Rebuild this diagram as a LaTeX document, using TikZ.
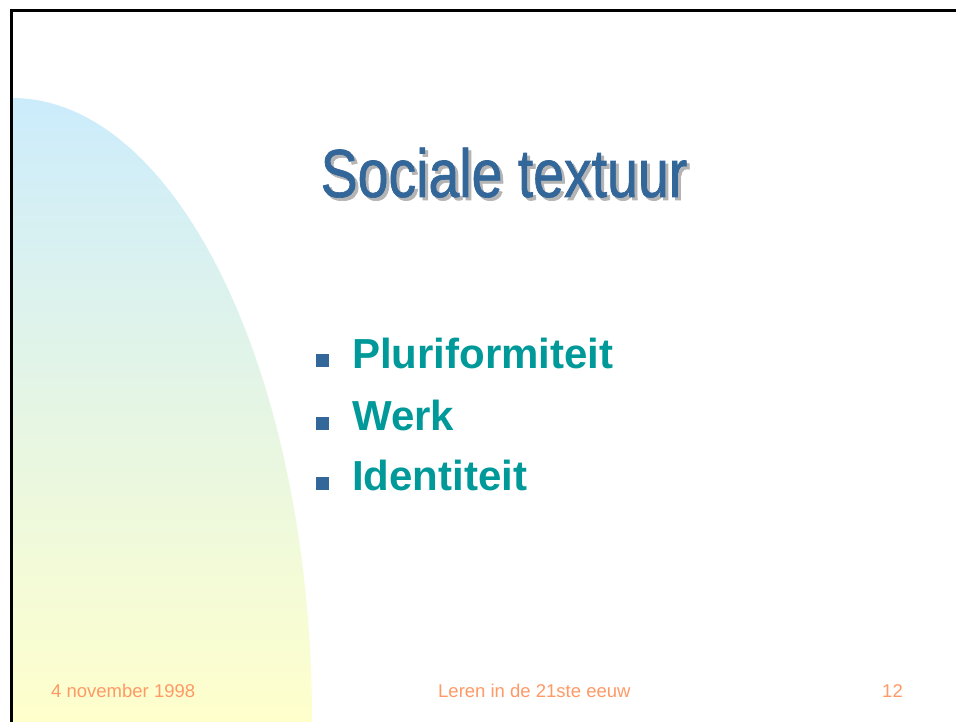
\documentclass[tikz,border=0pt]{standalone}
\usepackage{fontspec}
\setmainfont{Liberation Sans}
\newfontfamily\titlefont[FakeStretch=0.815,FakeBold=1]{Liberation Sans}
\definecolor{skyblue}{RGB}{204,236,252}
\definecolor{paleyellow}{RGB}{255,255,204}
\definecolor{slideblue}{RGB}{51,102,153}
\definecolor{slideteal}{RGB}{0,153,153}
\definecolor{footorange}{RGB}{255,153,102}
\definecolor{shadowgray}{RGB}{180,180,180}

\begin{document}
\begin{tikzpicture}[x=1pt,y=-1pt]
\tikzstyle{title}=[inner sep=0pt, anchor=base, font=\titlefont\fontsize{68}{68}\selectfont]
\tikzstyle{item}=[inner sep=0pt, anchor=base west, text=slideteal, font=\bfseries\fontsize{42}{42}\selectfont]
\tikzstyle{bullet}=[fill=slideblue, inner sep=0pt, minimum size=13pt, anchor=south west]
\tikzstyle{footer}=[inner sep=0pt, text=footorange, font=\fontsize{18.5}{18.5}\selectfont]

\useasboundingbox (0,0) rectangle (956,722);
\fill[white] (0,0) rectangle (956,722);

% background arc
\shade[top color=skyblue, bottom color=paleyellow]
  (12,722) -- (12,98) arc[start angle=90, end angle=0, x radius=300pt, y radius=624pt] -- cycle;
\draw[line width=3pt] (11,722) -- (11,11) -- (956,11);

% title
\draw (507,200) node[title, text=shadowgray] (shadow) {Sociale textuur};
\draw (504,197) node[title, text=slideblue] (title) {Sociale textuur};

% list
\draw (316,367) node[bullet] (b1) {};
\draw (316,430) node[bullet] (b2) {};
\draw (316,490) node[bullet] (b3) {};
\draw (352,368) node[item] (plur) {Pluriformiteit};
\draw (352,430) node[item] (werk) {Werk};
\draw (352,490) node[item] (iden) {Identiteit};

% footer
\draw (51,697) node[footer, anchor=base west] (date) {4 november 1998};
\draw (438,697) node[footer, anchor=base west] (talk) {Leren in de 21ste eeuw};
\draw (903,697) node[footer, anchor=base east] (page) {12};
\end{tikzpicture}
\end{document}
